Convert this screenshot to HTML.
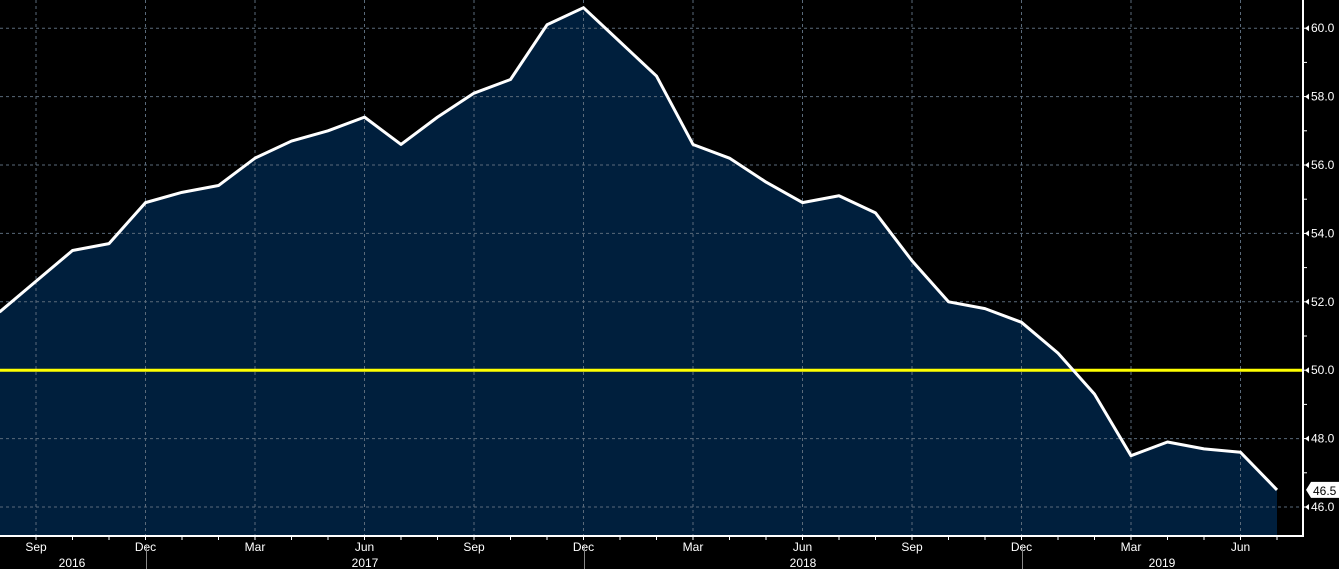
<!DOCTYPE html>
<html><head><meta charset="utf-8"><style>
html,body{margin:0;padding:0;background:#000;}
svg{display:block;font-family:"Liberation Sans",sans-serif;}
</style></head><body>
<svg id="chart" width="1339" height="569"></svg>
<script>
const months = ["2016-08","2016-09","2016-10","2016-11","2016-12","2017-01","2017-02","2017-03","2017-04","2017-05","2017-06","2017-07","2017-08","2017-09","2017-10","2017-11","2017-12","2018-01","2018-02","2018-03","2018-04","2018-05","2018-06","2018-07","2018-08","2018-09","2018-10","2018-11","2018-12","2019-01","2019-02","2019-03","2019-04","2019-05","2019-06","2019-07"];
const values = [51.7,52.6,53.5,53.7,54.9,55.2,55.4,56.2,56.7,57.0,57.4,56.6,57.4,58.1,58.5,60.1,60.6,59.6,58.6,56.6,56.2,55.5,54.9,55.1,54.6,53.2,52.0,51.8,51.4,50.5,49.3,47.5,47.9,47.7,47.6,46.5];
const yTicks = [46,48,50,52,54,56,58,60];
const refLevel = 50;
const monthNames = ["Jan","Feb","Mar","Apr","May","Jun","Jul","Aug","Sep","Oct","Nov","Dec"];
const years = ["2016","2017","2018","2019"];

const NS="http://www.w3.org/2000/svg";
const svg=document.getElementById('chart');
const plotR=1303, axisY=536;
function x(i){return -0.5+i*36.5;}
function y(v){return 507-(v-46)*34.2;}
function mk(tag,attrs,parent){const e=document.createElementNS(NS,tag);for(const k in attrs)e.setAttribute(k,attrs[k]);(parent||svg).appendChild(e);return e;}

// plot bg
const bg=mk('rect',{x:0,y:0,width:plotR,height:axisY,fill:'#000'});



// area
let d='M'+x(0)+','+axisY;
values.forEach((v,i)=>{d+=' L'+x(i)+','+y(v);});
d+=' L'+x(values.length-1)+','+axisY+' Z';
const area=mk('path',{d:d,fill:'#001f3d'});



// grid horizontal
yTicks.forEach(t=>{
  const g=mk('line',{x1:0,x2:plotR,y1:y(t),y2:y(t),stroke:'#5a6a7a','stroke-width':1,'stroke-dasharray':'3,3'});
  
  
});
// vertical grid + ticks + month labels
months.forEach((m,i)=>{
  const mo=parseInt(m.slice(5));
  const tk=mk('line',{x1:x(i),x2:x(i),y1:axisY,y2:axisY+4,stroke:'#fff','stroke-width':1});
  
  
  if(mo%3===0){
    const g=mk('line',{x1:x(i),x2:x(i),y1:0,y2:axisY,stroke:'#5a6a7a','stroke-width':1,'stroke-dasharray':'3,3'});
    
    
    const t=mk('text',{x:x(i),y:551,fill:'#fff','font-size':12,'text-anchor':'middle'});
    t.textContent=monthNames[mo-1];
    
    
  }
  if(mo===12){
    const s=mk('line',{x1:x(i)+1,x2:x(i)+1,y1:axisY+8,y2:569,stroke:'#888','stroke-width':1});
    
    
  }
});
// year labels
const yearX=[72,365,803,1162];
years.forEach((yr,i)=>{
  const t=mk('text',{x:yearX[i],y:567,fill:'#fff','font-size':12,'text-anchor':'middle'});
  t.textContent=yr;
  
  
});

// reference line
const ref=mk('line',{x1:0,x2:plotR,y1:y(refLevel),y2:y(refLevel),stroke:'#ffff00','stroke-width':3});



// series line
const line=mk('polyline',{points:values.map((v,i)=>x(i)+','+y(v)).join(' '),fill:'none',stroke:'#fff','stroke-width':3,'stroke-linejoin':'round'});



// axes
const xa=mk('line',{x1:0,x2:plotR,y1:axisY,y2:axisY,stroke:'#fff','stroke-width':2});


const ya=mk('line',{x1:plotR,x2:plotR,y1:0,y2:axisY+1,stroke:'#fff','stroke-width':2});


for(let v=45;v<=61;v++){
  if(y(v)<0||y(v)>axisY)continue;
  const tk=mk('line',{x1:plotR,x2:plotR+4,y1:y(v),y2:y(v),stroke:'#fff','stroke-width':1});
  
  
}
yTicks.forEach(t=>{
  const a=mk('path',{d:`M${plotR+2},${y(t)} l4,-3 v6 z`,fill:'#fff'});
  
  
  const l=mk('text',{x:plotR+8,y:y(t)+4,fill:'#fff','font-size':12});
  l.textContent=t.toFixed(1);
  
  
});
// last value tag
const lv=values[values.length-1], ly=y(lv);
const tag=mk('path',{d:`M${plotR+3},${ly} l5,-8 h31 v16 h-31 z`,fill:'#fff'});


const tt=mk('text',{x:plotR+10,y:ly+5,fill:'#000','font-size':12});
tt.textContent=lv.toFixed(1);


</script>
</body></html>
